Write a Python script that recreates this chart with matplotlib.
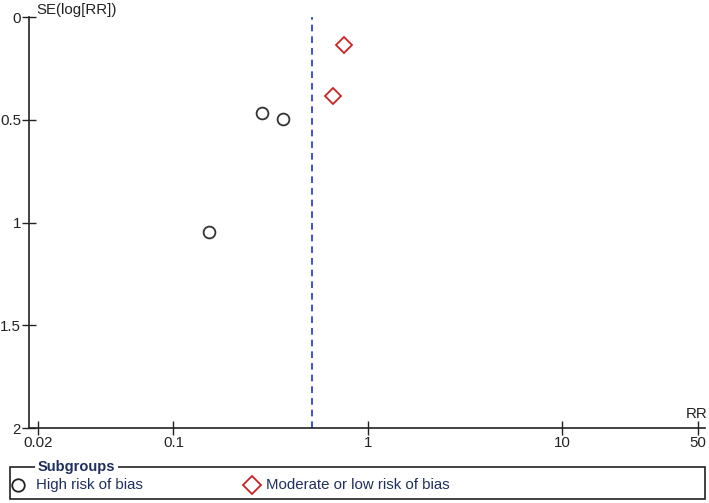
import matplotlib
matplotlib.use("Agg")
import matplotlib.pyplot as plt
from matplotlib.lines import Line2D
from matplotlib.patches import Rectangle

plt.rcParams['font.family'] = ['Liberation Sans', 'DejaVu Sans']

# Data
high_rr = [0.285, 0.365, 0.152]
high_se = [0.468, 0.497, 1.044]
mod_rr = [0.758, 0.663]
mod_se = [0.135, 0.382]
pooled_rr = 0.515
x_ticks = [0.02, 0.1, 1, 10, 50]
x_ticklabels = ["0.02", "0.1", "1", "10", "50"]
y_ticks = [0, 0.5, 1, 1.5, 2]
y_ticklabels = ["0", "0.5", "1", "1.5", "2"]
legend_labels = ["High risk of bias", "Moderate or low risk of bias"]

FS = 10.8
W, H = 709, 503
fig = plt.figure(figsize=(W / 100, H / 100), dpi=100)
ax = fig.add_axes([29.3 / W, 1 - 428 / H, (705 - 29.3) / W, (428 - 17.3) / H])
ax.set_xscale('log')
ax.set_xlim(0.01809, 54.6)
ax.set_ylim(2, 0)

ax.axvline(pooled_rr, color='#2233cc', lw=1.2, ls=(0, (4, 3)), zorder=1)
ax.plot(high_rr, high_se, ls='none', marker='o', ms=8.5, mfc='none',
        mec='#333333', mew=1.3, zorder=3, clip_on=False)
ax.plot(mod_rr, mod_se, ls='none', marker='D', ms=8, mfc='none',
        mec='#cc2222', mew=1.3, zorder=3, clip_on=False)

for s in ['top', 'right']:
    ax.spines[s].set_visible(False)
for s in ['left', 'bottom']:
    ax.spines[s].set_color('#222222')
    ax.spines[s].set_linewidth(1.2)

ax.set_xticks(x_ticks)
ax.set_xticklabels(x_ticklabels)
ax.xaxis.set_minor_locator(matplotlib.ticker.NullLocator())
ax.set_yticks(y_ticks)
ax.set_yticklabels(y_ticklabels)
ax.tick_params(axis='both', direction='inout', length=10, width=1.0,
               color='#222222', labelsize=FS, labelcolor='#222222', pad=1)

fig.text(36 / W, 1 - 10 / H, "SE(log[RR])", fontsize=FS, color='#222222',
         ha='left', va='center')
fig.text(697 / W, 1 - 414 / H, "RR", fontsize=FS, color='#222222',
         ha='center', va='center')

# Legend box
box = Rectangle((10 / W, 1 - 499 / H), (705 - 10) / W, (499 - 467) / H,
                transform=fig.transFigure, fill=False, ec='#222222', lw=1.2)
fig.add_artist(box)
fig.text(38 / W, 1 - 467 / H, "Subgroups", fontsize=10.5, fontweight='bold',
         color='#1f2f5f', ha='left', va='center',
         bbox=dict(facecolor='white', edgecolor='none', pad=2))
fig.add_artist(Line2D([17.7 / W], [1 - 485 / H], marker='o', ms=9, mfc='none',
                      mec='#222222', mew=1.3, ls='none', transform=fig.transFigure))
fig.text(36.5 / W, 1 - 485 / H, legend_labels[0], fontsize=FS, color='#1f2f5f',
         ha='left', va='center')
fig.add_artist(Line2D([252 / W], [1 - 485 / H], marker='D', ms=9, mfc='none',
                      mec='#cc2222', mew=1.3, ls='none', transform=fig.transFigure))
fig.text(266 / W, 1 - 485 / H, legend_labels[1], fontsize=FS, color='#1f2f5f',
         ha='left', va='center')

fig.savefig("out.png", dpi=100)
